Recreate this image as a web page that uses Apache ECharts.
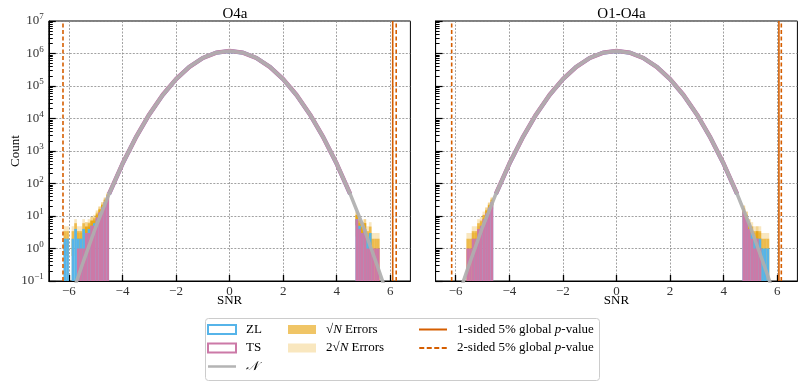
<!DOCTYPE html>
<html>
<head>
<meta charset="utf-8">
<script src="https://cdn.jsdelivr.net/npm/echarts@6/dist/echarts.min.js"></script>
<style>
  html, body { margin: 0; padding: 0; background: #fff; }
  #chart { width: 803px; height: 384px; }
</style>
</head>
<body>
<div id="chart"></div>
<script>
// tail histogram bins, width 0.1, first bin starts at the listed edge
var binWidth = 0.1;

// O4a
var o4aLoStart = -6.3;
var o4aZLlo = [0, 2, 2, 0, 2, 4, 2, 2, 4, 3, 4, 5, 6, 8, 12, 18, 26, 37];
var o4aTSlo = [0, 0, 0, 0, 0, 0, 1, 1, 1, 3, 3, 5, 5, 9, 13, 18, 27, 40];
var o4aHiStart = 4.7;
var o4aZLhi = [8, 5, 3, 4, 2, 3, 0, 0, 0];
var o4aTShi = [8, 4, 3, 4, 1, 1, 1, 1, 1];

// O1-O4a
var allLoStart = -5.6;
var allZLlo = [0, 0, 1, 1, 2, 3, 6, 11, 17, 26];
var allTSlo = [1, 1, 2, 2, 4, 5, 8, 12, 18, 27];
var allHiStart = 4.7;
var allZLhi = [13, 8, 4, 3, 2, 2, 2, 1, 1, 1];
var allTShi = [14, 8, 4, 2, 1, 2, 1, 0, 0, 0];

// bulk of the histograms, read at bin centres
var coreSNR = [-4.5, -4, -3.5, -3, -2.5, -2, -1.5, -1, -0.5, 0, 0.5, 1, 1.5, 2, 2.5, 3, 3.5, 4, 4.5];
var zlCore = [47, 398, 2610, 13200, 52500, 161000, 389000, 727000, 1058000, 1199000, 1058000, 727000, 389000, 161000, 52500, 13200, 2610, 398, 47];
var tsCore = [48, 403, 2620, 13300, 52700, 162000, 390000, 728000, 1059000, 1200000, 1059000, 728000, 390000, 162000, 52700, 13300, 2620, 403, 48];

// expected normal distribution
var gaussSNR = [-5.75, -5.5, -5, -4.5, -4, -3.5, -3, -2.5, -2, -1.5, -1, -0.5, 0, 0.5, 1, 1.5, 2, 2.5, 3, 3.5, 4, 4.5, 5, 5.5, 5.75];
var gaussCount = [0.08, 0.32, 4.5, 48, 403, 2620, 13300, 52700, 162000, 390000, 728000, 1059000, 1200000, 1059000, 728000, 390000, 162000, 52700, 13300, 2620, 403, 48, 4.5, 0.32, 0.08];

// global p-value thresholds: [O4a, O1-O4a]
var oneSided = [6.09, 6.06];
var twoSided = [6.22, 6.15];

var titles = ['O4a', 'O1-O4a'];
var xTicks = [-6, -4, -2, 0, 2, 4, 6];

var BLUE = '#56B4E9', PINK = '#CC79A7', GREY = 'rgba(175,175,175,0.92)', ORANGE = '#D55E00';
var FONT = 'Liberation Serif';

var tails = [
  { zl: [[o4aLoStart, o4aZLlo], [o4aHiStart, o4aZLhi]], ts: [[o4aLoStart, o4aTSlo], [o4aHiStart, o4aTShi]] },
  { zl: [[allLoStart, allZLlo], [allHiStart, allZLhi]], ts: [[allLoStart, allTSlo], [allHiStart, allTShi]] }
];

function edge(start, i) { return +(start + i * binWidth).toFixed(2); }

function bars(parts) {
  var out = [];
  parts.forEach(function (p) {
    p[1].forEach(function (c, i) {
      if (c > 0) out.push([edge(p[0], i), edge(p[0], i + 1), 0.1, c]);
    });
  });
  return out;
}

function bands(parts, k) {
  var out = [];
  parts.forEach(function (p) {
    p[1].forEach(function (c, i) {
      if (c > 0) {
        var e = k * Math.sqrt(c);
        out.push([edge(p[0], i), edge(p[0], i + 1), Math.max(c - e, 0.1), c + e]);
      }
    });
  });
  return out;
}

function rectItem(params, api) {
  var a = api.coord([api.value(0), api.value(3)]);
  var b = api.coord([api.value(1), api.value(2)]);
  return {
    type: 'rect',
    shape: { x: a[0], y: a[1], width: b[0] - a[0], height: b[1] - a[1] },
    style: { fill: api.visual('color') }
  };
}

function zip(xs, ys) {
  return xs.map(function (x, i) { return [x, ys[i]]; });
}

var minorTicks = [];
for (var k = -1; k < 7; k++) {
  for (var m = 2; m < 10; m++) minorTicks.push(Math.log10(m * Math.pow(10, k)));
}

var grids = [
  { left: 48.8, top: 21, width: 361.6, height: 260, show: true, borderColor: '#000', borderWidth: 1 },
  { left: 435.6, top: 21, width: 361.8, height: 260, show: true, borderColor: '#000', borderWidth: 1 }
];

var gridLine = { show: true, lineStyle: { color: '#8a8a8a', width: 0.8, type: [2, 1.5] } };
var xAxes = [], yAxes = [], series = [];

[0, 1].forEach(function (g) {
  xAxes.push({
    type: 'value', gridIndex: g, min: -6.75, max: 6.75,
    name: 'SNR', nameLocation: 'middle', nameGap: 13, nameMoveOverlap: false,
    nameTextStyle: { fontFamily: FONT, fontSize: 13, color: '#000' },
    axisLine: { onZero: false, lineStyle: { color: '#000' } },
    axisTick: { inside: true, length: 6, customValues: xTicks, lineStyle: { color: '#000', width: 1.3 } },
    axisLabel: {
      customValues: xTicks, margin: 4, fontFamily: FONT, fontSize: 13, color: '#333',
      formatter: function (v) { return String(v).replace('-', '−'); }
    },
    splitLine: gridLine
  });
});

[0, 1].forEach(function (g) {
  yAxes.push({
    type: 'log', gridIndex: g, min: 0.1, max: 1e7, logBase: 10, position: 'left',
    name: g === 0 ? 'Count' : '', nameLocation: 'middle', nameGap: 27, nameMoveOverlap: false,
    nameTextStyle: { fontFamily: FONT, fontSize: 13, color: '#000' },
    axisLine: { onZero: false, lineStyle: { color: '#000' } },
    axisTick: { inside: true, length: 7, lineStyle: { color: '#000', width: 1.2 } },
    axisLabel: {
      show: g === 0, margin: 5, fontFamily: FONT, fontSize: 13, color: '#333',
      formatter: function (v) {
        var e = Math.round(Math.log10(v));
        return '{b|10}{s|' + (e < 0 ? '−' : '') + Math.abs(e) + '}';
      },
      rich: {
        b: { fontFamily: FONT, fontSize: 13, color: '#333' },
        s: { fontFamily: FONT, fontSize: 9, color: '#333', padding: [0, 0, 8, 0] }
      }
    },
    splitLine: gridLine
  });
});

// second left axis per panel, only for the logarithmic minor ticks
[0, 1].forEach(function (g) {
  yAxes.push({
    type: 'value', gridIndex: g, min: -1, max: 7, position: 'left',
    axisLine: { show: false, onZero: false },
    axisTick: { show: true, inside: true, length: 4, customValues: minorTicks, lineStyle: { color: '#000', width: 1 } },
    axisLabel: { show: false },
    splitLine: { show: false }
  });
});

[0, 1].forEach(function (g) {
  var common = { xAxisIndex: g, yAxisIndex: g, silent: true };
  var zl = tails[g].zl, ts = tails[g].ts;

  series.push(Object.assign({
    name: 'twoSqrtN', type: 'custom', renderItem: rectItem, clip: true,
    itemStyle: { color: 'rgba(230,159,0,0.25)' }, encode: { x: [0, 1], y: [2, 3] },
    data: bands(zl, 2).concat(bands(ts, 2))
  }, common));
  series.push(Object.assign({
    name: 'sqrtN', type: 'custom', renderItem: rectItem, clip: true,
    itemStyle: { color: 'rgba(230,159,0,0.6)' }, encode: { x: [0, 1], y: [2, 3] },
    data: bands(zl, 1).concat(bands(ts, 1))
  }, common));
  series.push(Object.assign({
    name: 'ZL', type: 'custom', renderItem: rectItem, clip: true,
    itemStyle: { color: BLUE }, encode: { x: [0, 1], y: [2, 3] },
    data: bars(zl)
  }, common));
  series.push(Object.assign({
    name: 'TS', type: 'custom', renderItem: rectItem, clip: true,
    itemStyle: { color: PINK }, encode: { x: [0, 1], y: [2, 3] },
    data: bars(ts)
  }, common));
  series.push(Object.assign({
    name: 'ZL', type: 'line', symbol: 'none', clip: true,
    lineStyle: { color: BLUE, width: 4 }, itemStyle: { color: BLUE },
    data: zip(coreSNR, zlCore)
  }, common));
  series.push(Object.assign({
    name: 'TS', type: 'line', symbol: 'none', clip: true,
    lineStyle: { color: PINK, width: 4.4 }, itemStyle: { color: PINK },
    data: zip(coreSNR, tsCore)
  }, common));
  series.push(Object.assign({
    name: 'N', type: 'line', symbol: 'none', clip: true,
    lineStyle: { color: GREY, width: 3.5 }, itemStyle: { color: GREY },
    data: zip(gaussSNR, gaussCount)
  }, common));
  series.push(Object.assign({
    name: 'oneSided', type: 'line', symbol: 'none',
    lineStyle: { color: ORANGE, width: 1.6 }, itemStyle: { color: ORANGE },
    data: [[oneSided[g], 0.1], [oneSided[g], 1e7]]
  }, common));
  [-1, 1].forEach(function (s) {
    series.push(Object.assign({
      name: 'twoSided', type: 'line', symbol: 'none',
      lineStyle: { color: ORANGE, width: 1.6, type: [4, 2.5] }, itemStyle: { color: ORANGE },
      data: [[s * twoSided[g], 0.1], [s * twoSided[g], 1e7]]
    }, common));
  });
});

var labels = {
  ZL: 'ZL',
  TS: 'TS',
  N: '{c|𝒩}',
  sqrtN: '√{i|N} Errors',
  twoSqrtN: '2√{i|N} Errors',
  oneSided: '1-sided 5% global {i|p}-value',
  twoSided: '2-sided 5% global {i|p}-value'
};

// legend line icons: thin bar inside a 28x9 box
var solidIcon = 'path://M0,0L0,0ZM0,3.6h28v1.8h-28zM0,9L0,9Z';
var greyIcon = 'path://M0,0L0,0ZM0,3.3h28v2.4h-28zM0,9L0,9Z';
var dashIcon = 'path://M0,0L0,0ZM0,3.6h5v1.8h-5zM7.5,3.6h5v1.8h-5zM15,3.6h5v1.8h-5zM22.5,3.6h5v1.8h-5zM0,9L0,9Z';

function legend(left, data) {
  return {
    orient: 'vertical', left: left, top: 318, itemWidth: 28, itemHeight: 9, itemGap: 5.5,
    selectedMode: false,
    textStyle: {
      fontFamily: FONT, fontSize: 13, color: '#000', padding: [0, 0, 0, 5],
      rich: {
        i: { fontFamily: FONT, fontSize: 13, fontStyle: 'italic', color: '#000' },
        c: { fontFamily: 'DejaVu Serif', fontSize: 13, fontStyle: 'italic', color: '#000' }
      }
    },
    formatter: function (name) { return labels[name]; },
    data: data
  };
}

var option = {
  animation: false,
  backgroundColor: '#fff',
  title: [
    { text: titles[0], left: 230, top: 2, textAlign: 'center', textStyle: { fontFamily: FONT, fontSize: 15, fontWeight: 'normal', color: '#000' } },
    { text: titles[1], left: 616.5, top: 2, textAlign: 'center', textStyle: { fontFamily: FONT, fontSize: 15, fontWeight: 'normal', color: '#000' } }
  ],
  grid: grids,
  xAxis: xAxes,
  yAxis: yAxes,
  legend: [
    legend(202, [
      { name: 'ZL', icon: 'rect', itemStyle: { color: '#fff', borderColor: BLUE, borderWidth: 2 } },
      { name: 'TS', icon: 'rect', itemStyle: { color: '#fff', borderColor: PINK, borderWidth: 2 } },
      { name: 'N', icon: greyIcon, itemStyle: { color: '#b4b4b4' } }
    ]),
    legend(283, [
      { name: 'sqrtN', icon: 'rect', itemStyle: { color: 'rgba(230,159,0,0.6)' } },
      { name: 'twoSqrtN', icon: 'rect', itemStyle: { color: 'rgba(230,159,0,0.25)' } }
    ]),
    legend(414, [
      { name: 'oneSided', icon: solidIcon, itemStyle: { color: ORANGE } },
      { name: 'twoSided', icon: dashIcon, itemStyle: { color: ORANGE } }
    ])
  ],
  graphic: [{
    type: 'rect', left: 203, top: 316, silent: true,
    shape: { width: 394, height: 62, r: 3 },
    style: { fill: 'none', stroke: '#cccccc', lineWidth: 1 }
  }],
  series: series
};

var myChart = echarts.init(document.getElementById('chart'));
option && myChart.setOption(option);
</script>
</body>
</html>
